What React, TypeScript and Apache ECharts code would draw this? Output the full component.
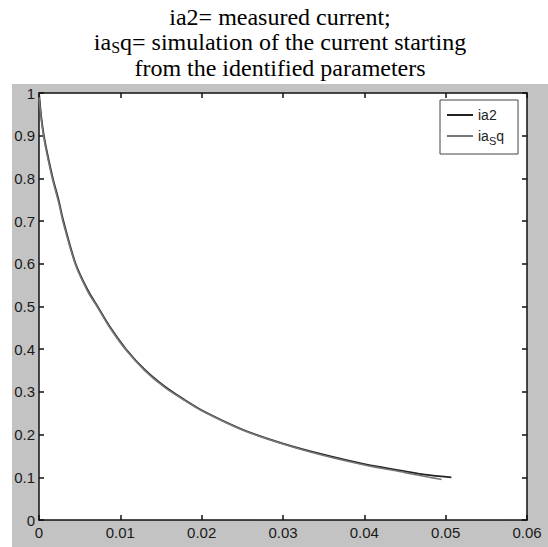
import React, { useEffect, useRef } from "react";
import * as echarts from "echarts";

const titleText = "{n|ia2= measured current;}\n{n|ia}{s|S}{n|q= simulation of the current starting}\n{n|from the identified parameters}";
const xTicks = [0, 0.01, 0.02, 0.03, 0.04, 0.05, 0.06];
const ia2: [number, number][] = [
  [0, 1], [0.0003, 0.94], [0.0006, 0.9], [0.001, 0.86], [0.0017, 0.8], [0.0024, 0.75],
  [0.003, 0.7], [0.0045, 0.6], [0.006, 0.538], [0.0072, 0.5], [0.0088, 0.45], [0.0107, 0.4],
  [0.013, 0.352], [0.0155, 0.312], [0.018, 0.28], [0.02, 0.257], [0.025, 0.212], [0.03, 0.179],
  [0.035, 0.153], [0.04, 0.131], [0.045, 0.114], [0.048, 0.105], [0.0507, 0.1],
];
const iasq: [number, number][] = [
  [0, 0.99], [0.0003, 0.935], [0.0006, 0.895], [0.001, 0.855], [0.0017, 0.795], [0.0024, 0.745],
  [0.003, 0.695], [0.0045, 0.597], [0.006, 0.535], [0.0072, 0.498], [0.0088, 0.448], [0.0107, 0.398],
  [0.013, 0.35], [0.0155, 0.31], [0.018, 0.279], [0.02, 0.256], [0.025, 0.211], [0.03, 0.178],
  [0.035, 0.151], [0.04, 0.129], [0.045, 0.111], [0.048, 0.1], [0.0495, 0.095],
];

const labelFont = "'Liberation Sans', Arial, sans-serif";
const serif = "'Liberation Serif', 'Times New Roman', serif";

export default function App() {
  const ref = useRef<HTMLDivElement>(null);
  useEffect(() => {
    if (!ref.current) return;
    const chart = echarts.init(ref.current, null, { renderer: "svg" });
    const axisCommon = {
      type: "value" as const,
      axisLine: { show: true, onZero: false, lineStyle: { color: "#111", width: 1.5 } },
      axisTick: { show: true, inside: true, length: 5, lineStyle: { color: "#111", width: 1.5 } },
      splitLine: { show: false },
    };
    chart.setOption({
      animation: false,
      backgroundColor: "#ffffff",
      graphic: [
        { type: "rect", z: -10, shape: { x: 12, y: 84, width: 536, height: 463 }, style: { fill: "#c3c3c3" } },
      ],
      title: {
        left: 280,
        textAlign: "center",
        top: 0,
        padding: [4, 0, 0, 0],
        text: titleText,
        textStyle: {
          fontFamily: serif,
          fontWeight: "normal",
          fontSize: 24,
          color: "#000",
          rich: {
            n: { fontFamily: serif, fontWeight: "normal", fontSize: 24, color: "#000", lineHeight: 25.5 },
            s: { fontFamily: serif, fontWeight: "normal", fontSize: 16, color: "#000", lineHeight: 25.5, verticalAlign: "bottom", padding: [9, 0, 0, 0] },
          },
        },
      },
      legend: {
        left: 440,
        top: 100,
        orient: "vertical",
        backgroundColor: "#fff",
        borderColor: "#444",
        borderWidth: 1,
        padding: [8, 14, 8, 7],
        itemGap: 7,
        itemWidth: 26,
        itemHeight: 2,
        icon: "rect",
        textStyle: {
          fontFamily: labelFont,
          fontSize: 14,
          color: "#222",
          rich: {
            n: { fontFamily: labelFont, fontSize: 14, color: "#222" },
            s: { fontFamily: labelFont, fontSize: 11, color: "#222", verticalAlign: "bottom", padding: [9, 0, 0, 0] },
          },
        },
        formatter: (name: string) => (name === "iasq" ? "{n|ia}{s|S}{n|q}" : "{n|" + name + "}"),
        data: ["ia2", "iasq"],
      },
      grid: { left: 39, right: 21, top: 93, bottom: 27, show: true, backgroundColor: "#fff", borderWidth: 0 },
      xAxis: [
        {
          ...axisCommon,
          min: xTicks[0],
          max: xTicks[xTicks.length - 1],
          interval: 0.01,
          position: "bottom",
          axisLabel: { fontFamily: labelFont, fontSize: 15, color: "#1a1a1a", margin: 5 },
        },
        {
          ...axisCommon,
          min: xTicks[0],
          max: xTicks[xTicks.length - 1],
          interval: 0.01,
          position: "top",
          axisLabel: { show: false },
        },
      ],
      yAxis: [
        {
          ...axisCommon,
          min: 0,
          max: 1,
          interval: 0.1,
          position: "left",
          axisLabel: { fontFamily: labelFont, fontSize: 15, color: "#1a1a1a", margin: 4 },
        },
        {
          ...axisCommon,
          min: 0,
          max: 1,
          interval: 0.1,
          position: "right",
          axisLabel: { show: false },
        },
      ],
      series: [
        {
          name: "ia2",
          type: "line",
          data: ia2,
          showSymbol: false,
          smooth: 0.3,
          lineStyle: { color: "#222", width: 1.8 },
          itemStyle: { color: "#222" },
        },
        {
          name: "iasq",
          type: "line",
          data: iasq,
          showSymbol: false,
          smooth: 0.3,
          lineStyle: { color: "#777", width: 1.6 },
          itemStyle: { color: "#777" },
        },
      ],
    });
    return () => chart.dispose();
  }, []);
  return <div ref={ref} style={{ position: "absolute", left: 0, top: 0, width: 548, height: 547 }} />;
}
